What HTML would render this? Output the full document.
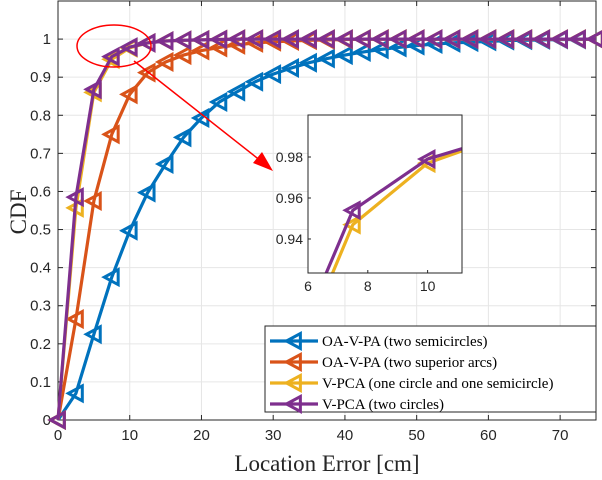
<!DOCTYPE html>
<html><head><meta charset="utf-8"><style>
html,body{margin:0;padding:0;background:#fff;width:602px;height:480px;overflow:hidden;}
svg{display:block;font-family:"Liberation Sans",sans-serif;}
</style></head><body>
<svg id="chart" width="602" height="480" viewBox="0 0 602 480">
<rect width="602" height="480" fill="#fff"/>
<g id="grid"></g>
<g id="axes"></g>
<g id="series"></g>
<ellipse cx="114" cy="46" rx="37" ry="21" fill="none" stroke="#f00" stroke-width="1.5"/>
<line x1="134" y1="61" x2="266" y2="165" stroke="#f00" stroke-width="1.5"/>
<polygon points="273,171 253,163 262,152" fill="#f00"/>
<g id="inset"></g>
<g id="legend"></g>
<text x="327" y="471" text-anchor="middle" font-family="Liberation Serif,serif" font-size="23" fill="#262626">Location Error [cm]</text>
<text transform="translate(26,212) rotate(-90)" text-anchor="middle" font-family="Liberation Serif,serif" font-size="23" fill="#262626">CDF</text>
</svg>
<script>
const xs=[0,2.5,5,7.5,10,12.5,15,17.5,20,22.5,25,27.5,30,32.5,35,37.5,40,42.5,45,47.5,50,52.5,55,57.5,60,62.5,65,67.5,70,72.5,75];
const blue=[0,0.07,0.225,0.375,0.497,0.597,0.672,0.742,0.793,0.835,0.862,0.888,0.908,0.924,0.938,0.949,0.958,0.966,0.973,0.978,0.983,0.987,0.99,0.992,0.994,0.996,0.997,0.998,0.999,0.999,1];
const orange=[0,0.265,0.575,0.75,0.855,0.912,0.94,0.958,0.97,0.978,0.985,0.99,0.993,0.995,0.997,0.998,0.999,1,1,1,1,1,1,1,1,1,1,1,1,1,1];
const yellow=[0,0.557,0.86,0.947,0.977,0.99,0.995,0.997,0.998,0.999,1,1,1,1,1,1,1,1,1,1,1,1,1,1,1,1,1,1,1,1,1];
const purple=[0,0.585,0.868,0.954,0.979,0.99,0.995,0.997,0.998,0.999,1,1,1,1,1,1,1,1,1,1,1,1,1,1,1,1,1,1,1,1,1];
const seriesNames=["OA-V-PA (two semicircles)","OA-V-PA (two superior arcs)","V-PCA (one circle and one semicircle)","V-PCA (two circles)"];
const colors=["#0072BD","#D95319","#EDB120","#7E2F8E"];
const xTicks=[0,10,20,30,40,50,60,70];
const yTicks=[0,0.1,0.2,0.3,0.4,0.5,0.6,0.7,0.8,0.9,1];
const yTickLabels=["0","0.1","0.2","0.3","0.4","0.5","0.6","0.7","0.8","0.9","1"];
const insetXTicks=[6,8,10];
const insetYTicks=[0.94,0.96,0.98];
const allSeries=[blue,orange,yellow,purple];
const NS="http://www.w3.org/2000/svg";
const L=58,R=596,T=1,B=420;
const X=v=>L+(v-0)/(75)*(R-L);
const Y=v=>B-v/1.1*(B-T);
function mk(tag,attrs,parent){const e=document.createElementNS(NS,tag);for(const k in attrs)e.setAttribute(k,attrs[k]);parent.appendChild(e);return e;}
const grid=document.getElementById('grid'),axes=document.getElementById('axes'),ser=document.getElementById('series');
xTicks.forEach(t=>{const l=mk('line',{x1:X(t),x2:X(t),y1:T,y2:B,stroke:'#e6e6e6','stroke-width':1},grid);

const tx=mk('text',{x:X(t),y:B+20,'text-anchor':'middle','font-size':15,fill:'#262626'},axes);tx.textContent=t;

mk('line',{x1:X(t),x2:X(t),y1:B,y2:B-5,stroke:'#262626'},axes);mk('line',{x1:X(t),x2:X(t),y1:T,y2:T+5,stroke:'#262626'},axes);});
yTicks.forEach((t,i)=>{const l=mk('line',{x1:L,x2:R,y1:Y(t),y2:Y(t),stroke:'#e6e6e6','stroke-width':1},grid);

const tx=mk('text',{x:L-7,y:Y(t)+5,'text-anchor':'end','font-size':15,fill:'#262626'},axes);tx.textContent=yTickLabels[i];

mk('line',{x1:L,x2:L+5,y1:Y(t),y2:Y(t),stroke:'#262626'},axes);mk('line',{x1:R,x2:R-5,y1:Y(t),y2:Y(t),stroke:'#262626'},axes);});
const box=mk('rect',{x:L,y:T,width:R-L,height:B-T,fill:'none',stroke:'#262626','stroke-width':1},axes);

function tri(x,y,s){return `${x-s},${y} ${x+s*0.85},${y-s} ${x+s*0.85},${y+s}`;}
function drawSeries(parent,data,color,Xf,Yf,xsArr,clip,name){
 const g=mk('g',clip?{'clip-path':clip}:{},parent);
 
 const pts=xsArr.map((x,i)=>Xf(x)+','+Yf(data[i])).join(' ');
 mk('polyline',{points:pts,fill:'none',stroke:color,'stroke-width':3.2,'stroke-linejoin':'round'},g);
 xsArr.forEach((x,i)=>{const m=mk('polygon',{points:tri(Xf(x),Yf(data[i]),7.5),fill:'none',stroke:color,'stroke-width':3,'stroke-linejoin':'miter'},g);
 });
}
allSeries.forEach((d,i)=>drawSeries(ser,d,colors[i],X,Y,xs,null,'series-'+(i+1)));
const inset=document.getElementById('inset');
const iL=308,iR=462,iT=115,iB=273,ix0=6,ix1=11.15,iy0=0.9234,iy1=1.0005;
const IX=v=>iL+(v-ix0)/(ix1-ix0)*(iR-iL);
const IY=v=>iB-(v-iy0)/(iy1-iy0)*(iB-iT);
mk('rect',{x:iL,y:iT,width:iR-iL,height:iB-iT,fill:'#fff'},inset);
const defs=mk('defs',{},inset);const cp=mk('clipPath',{id:'ic'},defs);mk('rect',{x:iL,y:iT,width:iR-iL,height:iB-iT},cp);
insetXTicks.forEach(t=>{const tx=mk('text',{x:IX(t),y:iB+18,'text-anchor':'middle','font-size':14,fill:'#262626'},inset);tx.textContent=t;

mk('line',{x1:IX(t),x2:IX(t),y1:iB,y2:iB-3,stroke:'#262626'},inset);});
insetYTicks.forEach(t=>{const tx=mk('text',{x:iL-5,y:IY(t)+5,'text-anchor':'end','font-size':14,fill:'#262626'},inset);tx.textContent=t.toFixed(2);

mk('line',{x1:iL,x2:iL+3,y1:IY(t),y2:IY(t),stroke:'#262626'},inset);});
allSeries.forEach((d,i)=>drawSeries(inset,d,colors[i],IX,IY,xs,'url(#ic)','inset-series-'+(i+1)));
mk('rect',{x:iL,y:iT,width:iR-iL,height:iB-iT,fill:'none',stroke:'#262626','stroke-width':1},inset);
const lg=document.getElementById('legend');
mk('rect',{x:265,y:326,width:331,height:86,fill:'#fff',stroke:'#262626','stroke-width':1},lg);
seriesNames.forEach((n,i)=>{const y=341+i*21;
 const e=mk('g',{},lg);
 mk('line',{x1:270,x2:318,y1:y,y2:y,stroke:colors[i],'stroke-width':3.2},e);
 mk('polygon',{points:tri(294,y,7.5),fill:'none',stroke:colors[i],'stroke-width':3},e);
 const t=mk('text',{x:322,y:y+5,'font-size':15,'font-family':'Liberation Serif,serif',fill:'#000'},e);t.textContent=n;});
</script>
</body></html>
